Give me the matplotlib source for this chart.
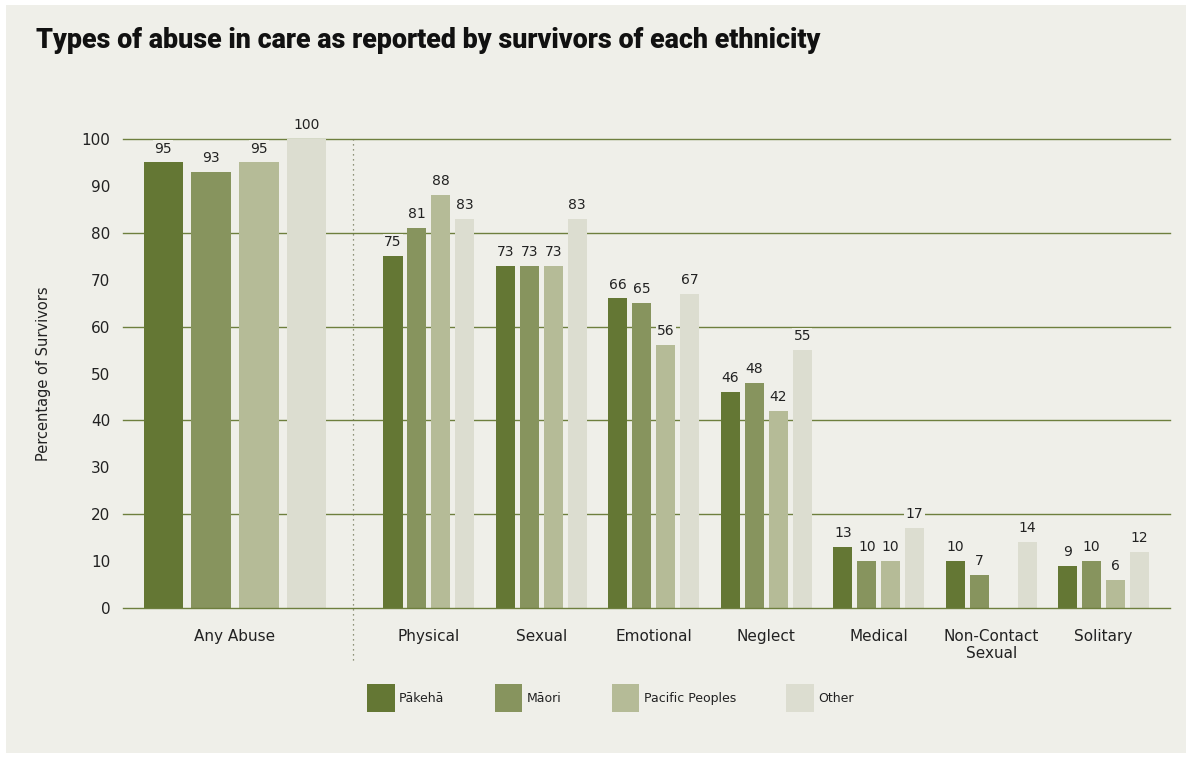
import numpy as np
import matplotlib

matplotlib.use("Agg")

import matplotlib.pyplot as plt
from matplotlib.patches import Rectangle

categories = ["Physical", "Sexual", "Emotional", "Neglect", "Medical", "Non-Contact\nSexual", "Solitary"]
ethnicities = ["Pākehā", "Māori", "Pacific Peoples", "Other"]

any_abuse = [95, 93, 95, 100]
pakeha = [75, 73, 66, 46, 13, 10, 9]
maori = [81, 73, 65, 48, 10, 7, 10]
pacific = [88, 73, 56, 42, 10, np.nan, 6]
other = [83, 83, 67, 55, 17, 14, 12]

colors = ["#647734", "#87945e", "#b5bb97", "#dcddd0"]
bg = "#efefe9"
grid_color = "#6e7f3e"
text_color = "#222222"

plt.rcParams["font.family"] = ["DejaVu Sans"]

fig = plt.figure(figsize=(11.92, 7.58), dpi=100, facecolor="white")
fig.add_artist(Rectangle((6 / 1192, 5 / 758), 1 - 12 / 1192, 1 - 10 / 758,
                         transform=fig.transFigure, facecolor=bg, edgecolor="none", zorder=-10))

ax = fig.add_axes([123 / 1192, 1 - 608 / 758, (1170 - 123) / 1192, (608 - 139) / 758])
ax.set_facecolor("none")

# layout in "group" units: small groups spaced 1 apart
width = 0.17
pitch = 0.213
x = np.arange(len(categories))
any_center = -1.724

series = [pakeha, maori, pacific, other]


def label_bar(xc, val):
    if np.isnan(val):
        return
    ax.annotate(f"{val:g}", xy=(xc, val), xytext=(0, 5), textcoords="offset points",
                ha="center", va="bottom", fontsize=10, color=text_color, zorder=5,
                bbox=dict(boxstyle="square,pad=0.1", facecolor=bg, edgecolor="none"),
                annotation_clip=False)


for i, (vals, col) in enumerate(zip(series, colors)):
    offs = (i - 1.5) * pitch
    ax.bar(x + offs, vals, width=width, color=col, zorder=3, label=ethnicities[i])
    for xc, v in zip(x + offs, vals):
        label_bar(xc, v)

    xa = any_center + (i - 1.5) * pitch * 2
    ax.bar(xa, any_abuse[i], width=width * 2.05, color=col, zorder=3)
    label_bar(xa, any_abuse[i])

ax.set_xlim(-2.72, 6.59)
ax.set_ylim(0, 100)

# gridlines every 20, ticks every 10
for yv in range(0, 101, 20):
    ax.axhline(yv, color=grid_color, linewidth=1.0, zorder=4 if yv == 0 else 1, clip_on=False)
ax.set_yticks(range(0, 101, 10))
ax.tick_params(axis="y", length=0, pad=9, labelsize=11, labelcolor=text_color)

ax.set_xticks([any_center] + list(x))
ax.set_xticklabels(["Any Abuse"] + categories)
ax.tick_params(axis="x", length=0, pad=15, labelsize=11, labelcolor=text_color)

for s in ax.spines.values():
    s.set_visible(False)

ax.plot([-0.676, -0.676], [-11, 100], linestyle=(0, (1, 3)), color="#6e7254",
        linewidth=0.9, clip_on=False, zorder=2)

ax.set_ylabel("Percentage of Survivors", fontsize=10.5, color=text_color, labelpad=22)

fig.text(36 / 1192, 1 - 40 / 758, "Types of abuse in care as reported by survivors of each ethnicity",
         fontsize=19.4, fontweight="heavy", family=["Roboto", "DejaVu Sans"],
         va="center", ha="left", color="#111111")

fig.legend(loc="center", bbox_to_anchor=(0.5122, 1 - 698 / 758), ncol=4, frameon=False,
           fontsize=9, handlelength=2.2, handleheight=3.0, handletextpad=0.35,
           columnspacing=4.03, labelcolor=text_color)

fig.savefig("out.png", dpi=100, facecolor="white")
